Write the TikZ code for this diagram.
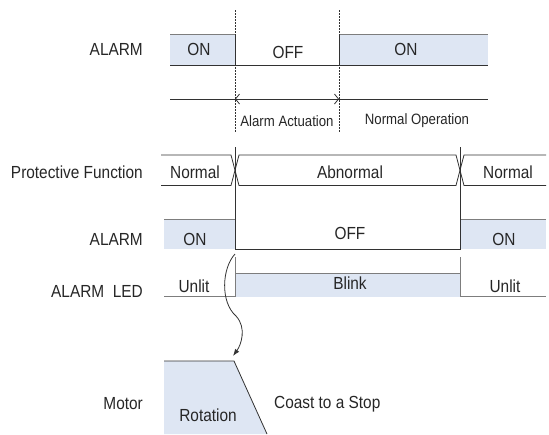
\documentclass[tikz,border=0pt]{standalone}
\usepackage{fontspec}
\setmainfont[FakeStretch=0.88]{Liberation Sans}
\usetikzlibrary{arrows.meta,positioning,calc}
\usepackage{xcolor}
\definecolor{sigfill}{RGB}{222,230,243}
\definecolor{sigline}{RGB}{50,50,50}
\definecolor{edgegray}{RGB}{125,125,125}

\begin{document}
\begin{tikzpicture}[
        x=1pt, y=-1pt,
        lbl/.style={font=\fontsize{17.5}{20}\selectfont, text=black!85, inner sep=0pt},
        rowlbl/.style={lbl, anchor=east},
        small/.style={font=\fontsize{15}{18}\selectfont, text=black!85, inner sep=0pt},
        sig/.style={draw=sigline, line width=0.8pt},
        edge/.style={draw=edgegray, line width=0.8pt},
        guide/.style={draw=sigline, dash pattern=on 1.5pt off 1.5pt, line width=0.7pt}
    ]
    \useasboundingbox (0,0) rectangle (549,434);

    % top: alarm output and its intervals
    \node[rowlbl] (alarm1) at (143,49) {ALARM};
    \fill[sigfill] (170,34) rectangle (235,65);
    \fill[sigfill] (339,34) rectangle (488,65);
    \draw[edge] (170,34) -- (235,34);
    \draw[edge] (339,34) -- (488,34);
    \draw[sig] (170,65) -- (488,65);
    \draw[sig] (235,34) -- (235,65);
    \draw[sig] (339,34) -- (339,65);
    \node[lbl] (on1) at (199,49) {ON};
    \node[lbl] (off1) at (288,52) {OFF};
    \node[lbl] (on2) at (406,49) {ON};

    \draw[guide] (235,10) -- (235,133);
    \draw[guide] (339,10) -- (339,133);
    \coordinate (actL) at (235,99);
    \coordinate (actR) at (339,99);
    \draw[sig] (170,99) -- (488,99);
    \draw[sig, {Straight Barb[length=4pt,width=10pt]}-{Straight Barb[length=4pt,width=10pt]}] (actL) -- (actR);
    \node[small] (act) at (287,121) {Alarm Actuation};
    \node[small] (norm) at (417,121) {Normal Operation};

    % protective function bus
    \node[rowlbl] (prot) at (143,172) {Protective Function};
    \draw[sig] (161,155) -- (231,155) -- (239,185.5) -- (456,185.5) -- (464,155) -- (546,155);
    \draw[sig] (161,185.5) -- (231,185.5) -- (239,155) -- (456,155) -- (464,185.5) -- (546,185.5);
    \node[lbl] (pnorm1) at (195,172) {Normal};
    \node[lbl] (pabn) at (350,172) {Abnormal};
    \node[lbl] (pnorm2) at (508,172) {Normal};

    % alarm output
    \node[rowlbl] (alarm2) at (143,239) {ALARM};
    \fill[sigfill] (164,219.5) rectangle (235,249);
    \fill[sigfill] (460,219.5) rectangle (546,249);
    \draw[edge] (164,219.5) -- (235,219.5);
    \draw[edge] (460,219.5) -- (546,219.5);
    \draw[sig] (235,147) -- (235,249) -- (460,249) -- (460,147);
    \node[lbl] (on3) at (195,239) {ON};
    \node[lbl] (off2) at (350,233) {OFF};
    \node[lbl] (on4) at (504,239) {ON};

    % alarm LED
    \node[rowlbl] (led) at (143,291) {ALARM\ \ LED};
    \fill[sigfill] (235,273) rectangle (460,296.5);
    \draw[edge] (164,296.5) -- (235,296.5);
    \draw[edge] (460,296.5) -- (546,296.5);
    \draw[edge] (235,273) -- (460,273);
    \draw[edge] (235,257) -- (235,296.5);
    \draw[edge] (460,257) -- (460,296.5);
    \node[lbl] (unlit1) at (194,286) {Unlit};
    \node[lbl] (blink) at (350,283) {Blink};
    \node[lbl] (unlit2) at (505,286) {Unlit};

    % motor
    \node[rowlbl] (motor) at (143,404) {Motor};
    \coordinate (rotL) at (164,361);
    \coordinate (rotR) at (234,361);
    \fill[sigfill] (rotL) -- (rotR) -- (267,434) -- (164,434) -- cycle;
    \draw[sig] (rotL) -- (rotR) -- (267,434);
    \node[lbl] (rot) at (208,415) {Rotation};
    \node[lbl, anchor=west] (coast) at (274,404) {Coast to a Stop};

    \coordinate (trig) at (235,254);
    \coordinate (tip) at (233,356);
    \draw[sig, -{Latex[length=7pt,width=5pt]}] (trig) .. controls (222,268) and (220,302) .. (236,316)
        .. controls (247,328) and (241,345) .. (tip);
\end{tikzpicture}
\end{document}
